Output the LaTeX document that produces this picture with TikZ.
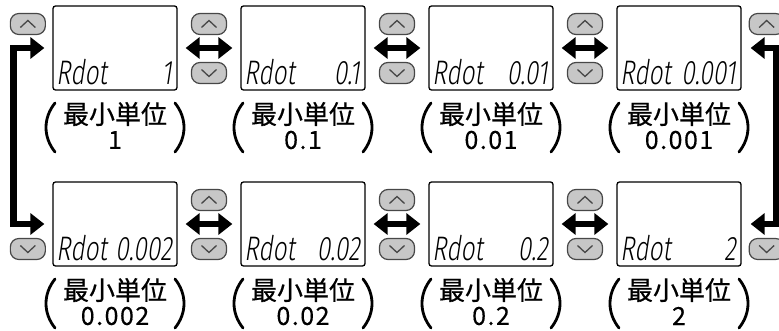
\documentclass[tikz,border=0pt]{standalone}
\usepackage{fontspec}
\newfontfamily\jpfont{Noto Sans CJK JP}[FakeBold=0.6]
\newfontfamily\numfont{Noto Sans CJK JP}[FakeBold=0.3,LetterSpace=6]
\newfontfamily\lcdfont{Fira Sans Light}[FakeSlant=0.15,FakeStretch=0.72]
\usetikzlibrary{arrows.meta}
\tikzset{
 lcdbox/.style={draw, line width=1.3pt, rounded corners=2.5pt, minimum width=124pt, minimum height=84pt, inner sep=0pt},
 btn/.style={draw=black!72, fill=black!22, line width=1.2pt, rounded corners=8.5pt, minimum width=35pt, minimum height=21pt, inner sep=0pt},
 chev/.style={draw=black!72, line width=1.3pt},
 flow/.style={line width=6.5pt, line join=miter, {Triangle[length=14pt,width=21pt]}-{Triangle[length=14pt,width=21pt]}},
 paren/.style={line width=2.8pt, line cap=round},
 lcdtxt/.style={font=\lcdfont\fontsize{34}{34}\selectfont, inner sep=0pt},
 captxt/.style={font=\jpfont\fontsize{26}{26}\selectfont, inner sep=0pt},
 numtxt/.style={font=\numfont\fontsize{25}{25}\selectfont, inner sep=0pt},
}
\begin{document}
\begin{tikzpicture}[x=1pt,y=-1pt]
\useasboundingbox (0,0) rectangle (779,331);
\foreach \n/\cx/\cy/\v in {1/115/48/1, 2/303/48/0.1, 3/491/48/0.01, 4/679/48/0.001, 5/115/224/0.002, 6/303/224/0.02, 7/491/224/0.2, 8/679/224/2}{
  \node[lcdbox] (b\n) at (\cx,\cy) {};
  \node[lcdtxt, anchor=base west] (r\n) at (\cx-59,\cy+37) {Rdot};
  \node[lcdtxt, anchor=base east] (v\n) at (\cx+57,\cy+37) {\v};
  \node[captxt] (c\n) at (\cx,\cy+66) {最小単位};
  \node[numtxt] (n\n) at (\cx,\cy+92) {\v};
  \draw[paren] (\cx-60,\cy+55) .. controls (\cx-72,\cy+70) and (\cx-72,\cy+89) .. (\cx-60,\cy+104);
  \draw[paren] (\cx+60,\cy+55) .. controls (\cx+72,\cy+70) and (\cx+72,\cy+89) .. (\cx+60,\cy+104);
}
\foreach \a/\b in {1/2,2/3,3/4,5/6,6/7,7/8}{
  \path (b\a.east) -- (b\b.west) node[midway, yshift=24pt, btn] (u\a) {} node[midway, yshift=-25pt, btn] (d\a) {};
  \draw[chev] ([shift={(-7.5,3.5)}]u\a.center) -- ([shift={(0,-3.5)}]u\a.center) -- ([shift={(7.5,3.5)}]u\a.center);
  \draw[chev] ([shift={(-7.5,-3.5)}]d\a.center) -- ([shift={(0,3.5)}]d\a.center) -- ([shift={(7.5,-3.5)}]d\a.center);
  \draw[flow] ([xshift=8pt]b\a.east) -- ([xshift=-8pt]b\b.west);
}
\node[btn] (ul) at ([xshift=-24.5pt,yshift=24pt]b1.west) {};
\draw[chev] ([shift={(-7.5,3.5)}]ul.center) -- ([shift={(0,-3.5)}]ul.center) -- ([shift={(7.5,3.5)}]ul.center);
\node[btn] (dl) at ([xshift=-24.5pt,yshift=-25pt]b5.west) {};
\draw[chev] ([shift={(-7.5,-3.5)}]dl.center) -- ([shift={(0,3.5)}]dl.center) -- ([shift={(7.5,-3.5)}]dl.center);
\node[btn] (ur) at ([xshift=25pt,yshift=24pt]b4.east) {};
\draw[chev] ([shift={(-7.5,3.5)}]ur.center) -- ([shift={(0,-3.5)}]ur.center) -- ([shift={(7.5,3.5)}]ur.center);
\node[btn] (dr) at ([xshift=25pt,yshift=-25pt]b8.east) {};
\draw[chev] ([shift={(-7.5,-3.5)}]dr.center) -- ([shift={(0,3.5)}]dr.center) -- ([shift={(7.5,-3.5)}]dr.center);
\draw[flow] ([xshift=-8pt]b1.west) -- ++(-31,0) |- ([xshift=-8pt]b5.west);
\draw[flow] ([xshift=9pt]b4.east) -- ++(26,0) |- ([xshift=9pt]b8.east);
\end{tikzpicture}
\end{document}
